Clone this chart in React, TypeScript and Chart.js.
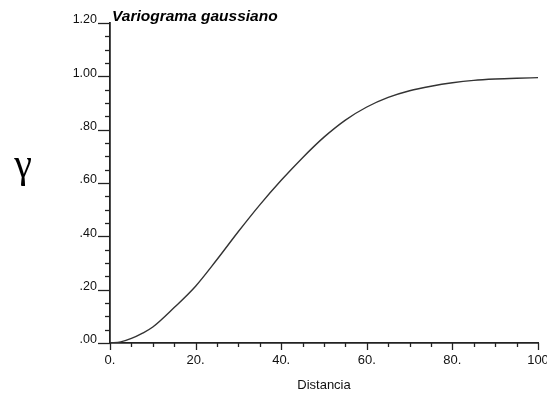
import React, { useEffect, useRef } from "react";
import { Chart, registerables } from "chart.js";

Chart.register(...registerables);

const distX = [0, 2.5, 5, 7.5, 10, 15, 20, 25, 30, 35, 40, 45, 50, 55, 60, 65, 70, 75, 80, 85, 90, 95, 100];
const gammaVals = [0, 0.004, 0.017, 0.036, 0.06, 0.133, 0.213, 0.313, 0.418, 0.518, 0.61, 0.695, 0.772, 0.836, 0.885, 0.921, 0.946, 0.963, 0.976, 0.985, 0.99, 0.993, 0.995];
const xTickLabels = ["0.", "20.", "40.", "60.", "80.", "100"];
const yTickLabels = [".00", ".20", ".40", ".60", ".80", "1.00", "1.20"];
const chartTitle = "Variograma gaussiano";
const yAxisSymbol = "γ";
const xAxisTitle = "Distancia";

const INK = "#222";

const decorPlugin = {
  id: "decor",
  afterDraw(chart: any) {
    const ctx = chart.ctx;
    const xs = chart.scales.x;
    const ys = chart.scales.y;
    const area = chart.chartArea;
    ctx.save();
    ctx.strokeStyle = INK;
    ctx.lineWidth = 1.3;
    for (let i = 0; i <= 20; i++) {
      const v = i * 5;
      const px = Math.round(xs.getPixelForValue(v)) + 0.5;
      const len = i % 4 === 0 ? 7 : 4;
      ctx.beginPath();
      ctx.moveTo(px, area.bottom);
      ctx.lineTo(px, area.bottom + len);
      ctx.stroke();
    }
    for (let i = 0; i <= 24; i++) {
      const v = i * 0.05;
      const py = Math.round(ys.getPixelForValue(v)) + 0.5;
      const len = i % 4 === 0 ? 12 : 5;
      ctx.beginPath();
      ctx.moveTo(area.left, py);
      ctx.lineTo(area.left - len, py);
      ctx.stroke();
    }
    ctx.fillStyle = "#000";
    ctx.font = "italic bold 15.5px 'Liberation Sans', Arial, sans-serif";
    ctx.textAlign = "left";
    ctx.textBaseline = "alphabetic";
    ctx.fillText(chartTitle, area.left + 2, 21);
    ctx.font = "40px 'Liberation Serif', 'DejaVu Serif', serif";
    ctx.textAlign = "center";
    ctx.fillText(yAxisSymbol, 23, 177);
    ctx.restore();
  },
};

export default function App() {
  const ref = useRef<HTMLCanvasElement | null>(null);
  useEffect(() => {
    if (!ref.current) return;
    const chart = new Chart(ref.current, {
      type: "line",
      data: {
        datasets: [
          {
            data: distX.map((x, i) => ({ x, y: gammaVals[i] })),
            borderColor: "#333",
            borderWidth: 1.4,
            pointRadius: 0,
            cubicInterpolationMode: "monotone",
            fill: false,
          },
        ],
      },
      options: {
        responsive: false,
        animation: false,
        devicePixelRatio: 1,
        layout: { padding: { top: 23, right: 9, left: 0, bottom: 0 } },
        plugins: {
          legend: { display: false },
          title: { display: false },
          tooltip: { enabled: false },
        },
        scales: {
          x: {
            type: "linear",
            min: 0,
            max: 100,
            afterFit: (s: any) => {
              s.height = 50;
              s.paddingLeft = 0;
              s.paddingRight = 0;
            },
            grid: { display: true, drawOnChartArea: false, drawTicks: false },
            border: { display: true, color: INK, width: 1.8 },
            ticks: {
              stepSize: 20,
              padding: 10,
              color: "#111",
              font: { family: "'Liberation Sans', Arial, sans-serif", size: 13 },
              callback: (_v: any, i: number) => xTickLabels[i],
              maxRotation: 0,
              autoSkip: false,
            },
            title: {
              display: true,
              text: xAxisTitle,
              color: "#111",
              padding: { top: 0, bottom: 0 },
              font: { family: "'Liberation Sans', Arial, sans-serif", size: 13 },
            },
          },
          y: {
            type: "linear",
            min: 0,
            max: 1.2,
            afterFit: (s: any) => {
              s.width = 110;
              s.paddingTop = 0;
              s.paddingBottom = 0;
            },
            grid: { display: true, drawOnChartArea: false, drawTicks: false },
            border: { display: true, color: INK, width: 1.8 },
            ticks: {
              stepSize: 0.2,
              padding: 13,
              labelOffset: -3,
              color: "#111",
              font: { family: "'Liberation Sans', Arial, sans-serif", size: 12.5 },
              callback: (_v: any, i: number) => yTickLabels[i],
              autoSkip: false,
            },
          },
        },
      },
      plugins: [decorPlugin],
    } as any);
    return () => chart.destroy();
  }, []);
  return (
    <div style={{ position: "absolute", left: 0, top: 0, width: 547, height: 393, background: "#fff" }}>
      <canvas ref={ref} width={547} height={393} style={{ display: "block" }} />
    </div>
  );
}
